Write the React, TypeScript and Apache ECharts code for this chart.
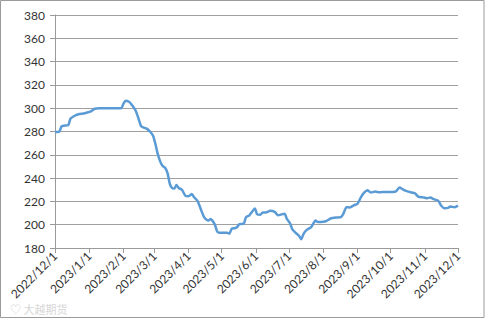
import React, { useEffect, useRef } from "react";
import * as echarts from "echarts";

const dates: string[] = [
  "2022-12-01", "2022-12-03", "2022-12-05", "2022-12-07", "2022-12-09", "2022-12-13", "2022-12-15",
  "2022-12-17", "2022-12-20", "2022-12-23", "2022-12-27", "2022-12-31", "2023-01-03", "2023-01-06",
  "2023-01-10", "2023-01-20", "2023-01-30", "2023-02-01", "2023-02-03", "2023-02-06", "2023-02-08",
  "2023-02-10", "2023-02-12", "2023-02-14", "2023-02-17", "2023-02-19", "2023-02-22", "2023-02-25",
  "2023-02-28", "2023-03-02", "2023-03-04", "2023-03-06", "2023-03-08", "2023-03-11", "2023-03-13",
  "2023-03-15", "2023-03-17", "2023-03-19", "2023-03-21", "2023-03-23", "2023-03-26", "2023-03-29",
  "2023-04-01", "2023-04-04", "2023-04-06", "2023-04-09", "2023-04-11", "2023-04-13", "2023-04-15",
  "2023-04-17", "2023-04-19", "2023-04-21", "2023-04-23", "2023-04-25", "2023-04-27", "2023-04-29",
  "2023-05-02", "2023-05-06", "2023-05-08", "2023-05-10", "2023-05-13", "2023-05-15", "2023-05-17",
  "2023-05-21", "2023-05-23", "2023-05-26", "2023-05-28", "2023-05-31", "2023-06-02", "2023-06-05",
  "2023-06-07", "2023-06-10", "2023-06-14", "2023-06-18", "2023-06-21", "2023-06-24", "2023-06-27",
  "2023-06-29", "2023-07-02", "2023-07-04", "2023-07-07", "2023-07-10", "2023-07-12", "2023-07-14",
  "2023-07-17", "2023-07-21", "2023-07-25", "2023-07-27", "2023-08-01", "2023-08-04", "2023-08-08",
  "2023-08-13", "2023-08-17", "2023-08-19", "2023-08-22", "2023-08-25", "2023-08-29", "2023-09-01",
  "2023-09-04", "2023-09-07", "2023-09-10", "2023-09-13", "2023-09-17", "2023-09-21", "2023-09-27",
  "2023-10-03", "2023-10-06", "2023-10-09", "2023-10-12", "2023-10-15", "2023-10-20", "2023-10-23",
  "2023-10-26", "2023-10-31", "2023-11-03", "2023-11-06", "2023-11-09", "2023-11-13", "2023-11-16",
  "2023-11-19", "2023-11-22", "2023-11-24", "2023-11-28", "2023-12-01",
];

const values: number[] = [
  279.5, 279.5, 280, 284.5, 285, 285.5, 291,
  292.5, 294, 295, 295.5, 296.5, 297.5, 299.5,
  300, 300, 300, 304, 306.3, 305.5, 303.5,
  301, 298, 293, 284.5, 283.5, 282.5, 280,
  276, 269, 261, 255, 251, 248.5, 244,
  235, 231.5, 231, 234, 231.5, 230, 225,
  224.5, 226.3, 223.5, 220.5, 216, 211, 206.5,
  204.5, 203.5, 205, 203, 199.5, 194, 193,
  193, 193, 192.3, 196.5, 197, 198, 200.5,
  201, 206.5, 208, 210.5, 214, 209, 208.5,
  210.5, 210.5, 212, 211, 208.2, 208.8, 209.5,
  205, 201, 196, 193, 190.5, 187.5, 192,
  195.5, 198, 203.5, 202.3, 202.5, 203.3, 205.5,
  206.2, 206.5, 209, 215, 214.8, 216.8, 218,
  223.5, 227.5, 229.5, 227.6, 228.4, 227.9, 228.1,
  228.1, 228.7, 231.9, 230.4, 229, 227.6, 227,
  224.1, 223.3, 222.7, 223.3, 221.9, 220.7, 216.1,
  214.1, 214.4, 215.6, 215, 216.4,
];

const monthTicks: string[] = [
  "2022-12-01", "2023-01-01", "2023-02-01", "2023-03-01", "2023-04-01", "2023-05-01", "2023-06-01",
  "2023-07-01", "2023-08-01", "2023-09-01", "2023-10-01", "2023-11-01", "2023-12-01",
];

const DAY = 86400000;

function toUTC(s: string): number {
  const [y, m, d] = s.split("-").map(Number);
  return Date.UTC(y, m - 1, d);
}

const origin = toUTC(monthTicks[0]);

function toDay(s: string): number {
  return Math.round((toUTC(s) - origin) / DAY);
}

function fmtDay(v: number): string {
  const dt = new Date(origin + Math.round(v) * DAY);
  return `${dt.getUTCFullYear()}/${dt.getUTCMonth() + 1}/${dt.getUTCDate()}`;
}

export default function App() {
  const ref = useRef<HTMLDivElement>(null);
  useEffect(() => {
    document.body.style.margin = "0";
    if (!ref.current) return;
    const chart = echarts.init(ref.current, undefined, { renderer: "svg" });
    const tickDays = monthTicks.map(toDay);
    const font = "Lato, 'Liberation Sans', sans-serif";
    chart.setOption({
      animation: false,
      backgroundColor: "#ffffff",
      grid: { left: 55, right: 27, top: 15, bottom: 71, containLabel: false, outerBoundsMode: "none" },
      xAxis: {
        type: "value",
        min: tickDays[0],
        max: tickDays[tickDays.length - 1],
        axisLine: { show: true, lineStyle: { color: "#9a9a9a", width: 1 } },
        axisTick: { show: true, length: 5, lineStyle: { color: "#9a9a9a" }, customValues: tickDays },
        axisLabel: {
          customValues: tickDays,
          rotate: 45,
          margin: 6,
          fontSize: 12,
          fontFamily: font,
          color: "#333333",
          formatter: (v: number) => fmtDay(v),
          hideOverlap: false,
          showMinLabel: true,
          showMaxLabel: true,
        },
        splitLine: { show: false },
      },
      yAxis: {
        type: "value",
        min: 180,
        max: 380,
        interval: 20,
        axisLine: { show: true, lineStyle: { color: "#9a9a9a", width: 1 } },
        axisTick: { show: true, length: 5, lineStyle: { color: "#9a9a9a" } },
        axisLabel: { fontSize: 12, fontFamily: font, color: "#333333", margin: 10 },
        splitLine: { show: true, lineStyle: { color: "#a0a0a0", width: 1 } },
      },
      series: [
        {
          type: "line",
          data: dates.map((d, i) => [toDay(d), values[i]]),
          showSymbol: false,
          symbol: "none",
          smooth: 0.2,
          lineStyle: { color: "#5B9BD5", width: 2.5 },
          itemStyle: { color: "#5B9BD5" },
        },
      ],
      graphic: [
        {
          type: "rect",
          shape: { x: 0.5, y: 0.5, width: 483.5, height: 317 },
          style: { fill: "none", stroke: "#9a9a9a", lineWidth: 1 },
          silent: true,
        },
        {
          type: "text",
          x: 10,
          y: 303,
          style: { text: "♡ 大越期货", fill: "#d6d6d6", font: "11px 'Noto Sans CJK SC', sans-serif" },
          silent: true,
        },
      ],
    });
    return () => chart.dispose();
  }, []);
  return <div ref={ref} style={{ width: 485, height: 319 }} />;
}
